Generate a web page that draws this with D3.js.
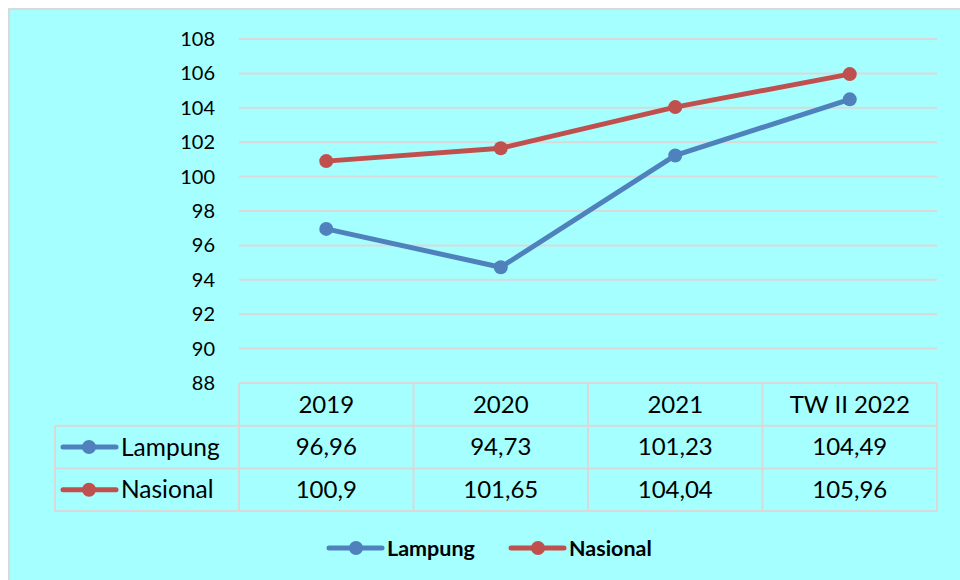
<!DOCTYPE html>
<html>
<head>
<meta charset="utf-8">
<script src="https://cdn.jsdelivr.net/npm/d3@7"></script>
<style>
  body { margin: 0; background: #fff; }
  svg text { font-family: Lato, "Open Sans", sans-serif; fill: #000; }
</style>
</head>
<body>
<div id="viz"></div>
<script>
var categories = ['2019', '2020', '2021', 'TW II 2022'];
var lampung = [96.96, 94.73, 101.23, 104.49];
var nasional = [100.9, 101.65, 104.04, 105.96];
var yTicks = [88, 90, 92, 94, 96, 98, 100, 102, 104, 106, 108];

var series = [
  { name: 'Lampung', values: lampung, color: '#4f81bd' },
  { name: 'Nasional', values: nasional, color: '#c0504d' }
];

var width = 960,
    height = 580,
    plot = { left: 239, right: 937, top: 39, bottom: 383 },
    rowH = 42.7,
    gridColor = '#d9d9d9';

var svg = d3.select('#viz').append('svg')
  .attr('width', width)
  .attr('height', height);

// chart area background + border
svg.append('rect')
  .attr('x', 9).attr('y', 9)
  .attr('width', 960).attr('height', 600)
  .attr('fill', '#a5ffff')
  .attr('stroke', gridColor)
  .attr('stroke-width', 2);

var xScale = d3.scaleBand()
  .domain(categories)
  .range([plot.left, plot.right]);

var yScale = d3.scaleLinear()
  .domain([88, 108])
  .range([plot.bottom, plot.top]);

// grid lines
svg.append('g').selectAll('line')
  .data(yTicks.slice(1))
  .enter().append('line')
    .attr('x1', plot.left).attr('x2', plot.right)
    .attr('y1', function(d) { return yScale(d); })
    .attr('y2', function(d) { return yScale(d); })
    .attr('stroke', gridColor)
    .attr('stroke-width', 2);

// y axis labels
var yAxis = d3.axisLeft(yScale).tickValues(yTicks).tickSize(0).tickPadding(0);
var yGuide = svg.append('g')
  .attr('transform', 'translate(215,0)')
  .call(yAxis);
yGuide.select('.domain').remove();
yGuide.selectAll('text')
  .style('font-size', '20px')
  .attr('fill', '#000');

// lines + markers
var line = d3.line()
  .x(function(d, i) { return xScale(categories[i]) + xScale.bandwidth() / 2; })
  .y(function(d) { return yScale(d); });

series.forEach(function(s) {
  svg.append('path')
    .datum(s.values)
    .attr('d', line)
    .attr('fill', 'none')
    .attr('stroke', s.color)
    .attr('stroke-width', 5)
    .attr('stroke-linejoin', 'round');
  svg.append('g').selectAll('circle')
    .data(s.values)
    .enter().append('circle')
      .attr('cx', function(d, i) { return xScale(categories[i]) + xScale.bandwidth() / 2; })
      .attr('cy', function(d) { return yScale(d); })
      .attr('r', 7)
      .attr('fill', s.color);
});

// data table
var table = svg.append('g');
var tableLeft = 55;
var rows = [plot.bottom, plot.bottom + rowH, plot.bottom + 2 * rowH, plot.bottom + 3 * rowH];

// horizontal lines
table.append('line')
  .attr('x1', plot.left).attr('x2', plot.right)
  .attr('y1', rows[0]).attr('y2', rows[0]);
rows.slice(1).forEach(function(y) {
  table.append('line')
    .attr('x1', tableLeft).attr('x2', plot.right)
    .attr('y1', y).attr('y2', y);
});
// vertical lines
table.append('line')
  .attr('x1', tableLeft).attr('x2', tableLeft)
  .attr('y1', rows[1]).attr('y2', rows[3]);
categories.forEach(function(c) {
  table.append('line')
    .attr('x1', xScale(c)).attr('x2', xScale(c))
    .attr('y1', rows[0]).attr('y2', rows[3]);
});
table.append('line')
  .attr('x1', plot.right).attr('x2', plot.right)
  .attr('y1', rows[0]).attr('y2', rows[3]);
table.selectAll('line')
  .attr('stroke', gridColor)
  .attr('stroke-width', 2);

// header
table.selectAll('text.cat')
  .data(categories)
  .enter().append('text')
    .attr('class', 'cat')
    .attr('x', function(d) { return xScale(d) + xScale.bandwidth() / 2; })
    .attr('y', rows[0] + rowH / 2)
    .attr('dy', '0.35em')
    .attr('text-anchor', 'middle')
    .style('font-size', '24px')
    .text(function(d) { return d; });

series.forEach(function(s, si) {
  var cy = rows[si + 1] + rowH / 2;
  // legend key in table
  table.append('line')
    .attr('x1', 63).attr('x2', 116)
    .attr('y1', cy).attr('y2', cy)
    .attr('stroke', s.color)
    .attr('stroke-width', 5)
    .attr('stroke-linecap', 'round');
  table.append('circle')
    .attr('cx', 89).attr('cy', cy).attr('r', 7)
    .attr('fill', s.color);
  table.append('text')
    .attr('x', 121).attr('y', cy)
    .attr('dy', '0.35em')
    .style('font-size', '24.5px')
    .text(s.name);
  table.selectAll('text.v' + si)
    .data(s.values)
    .enter().append('text')
      .attr('class', 'v' + si)
      .attr('x', function(d, i) { return xScale(categories[i]) + xScale.bandwidth() / 2; })
      .attr('y', cy)
      .attr('dy', '0.35em')
      .attr('text-anchor', 'middle')
      .style('font-size', '24px')
      .text(function(d) { return String(d).replace('.', ','); });
});

// legend
var legendX = [328, 510];
var legend = svg.append('g').attr('transform', 'translate(0,548)');
series.forEach(function(s, i) {
  var g = legend.append('g').attr('transform', 'translate(' + legendX[i] + ',0)');
  g.append('line')
    .attr('x1', 1).attr('x2', 54)
    .attr('stroke', s.color)
    .attr('stroke-width', 5)
    .attr('stroke-linecap', 'round');
  g.append('circle')
    .attr('cx', 28).attr('r', 7)
    .attr('fill', s.color);
  g.append('text')
    .attr('x', 59)
    .attr('dy', '0.35em')
    .style('font-size', '21.5px')
    .style('font-weight', 'bold')
    .text(s.name);
});
</script>
</body>
</html>
